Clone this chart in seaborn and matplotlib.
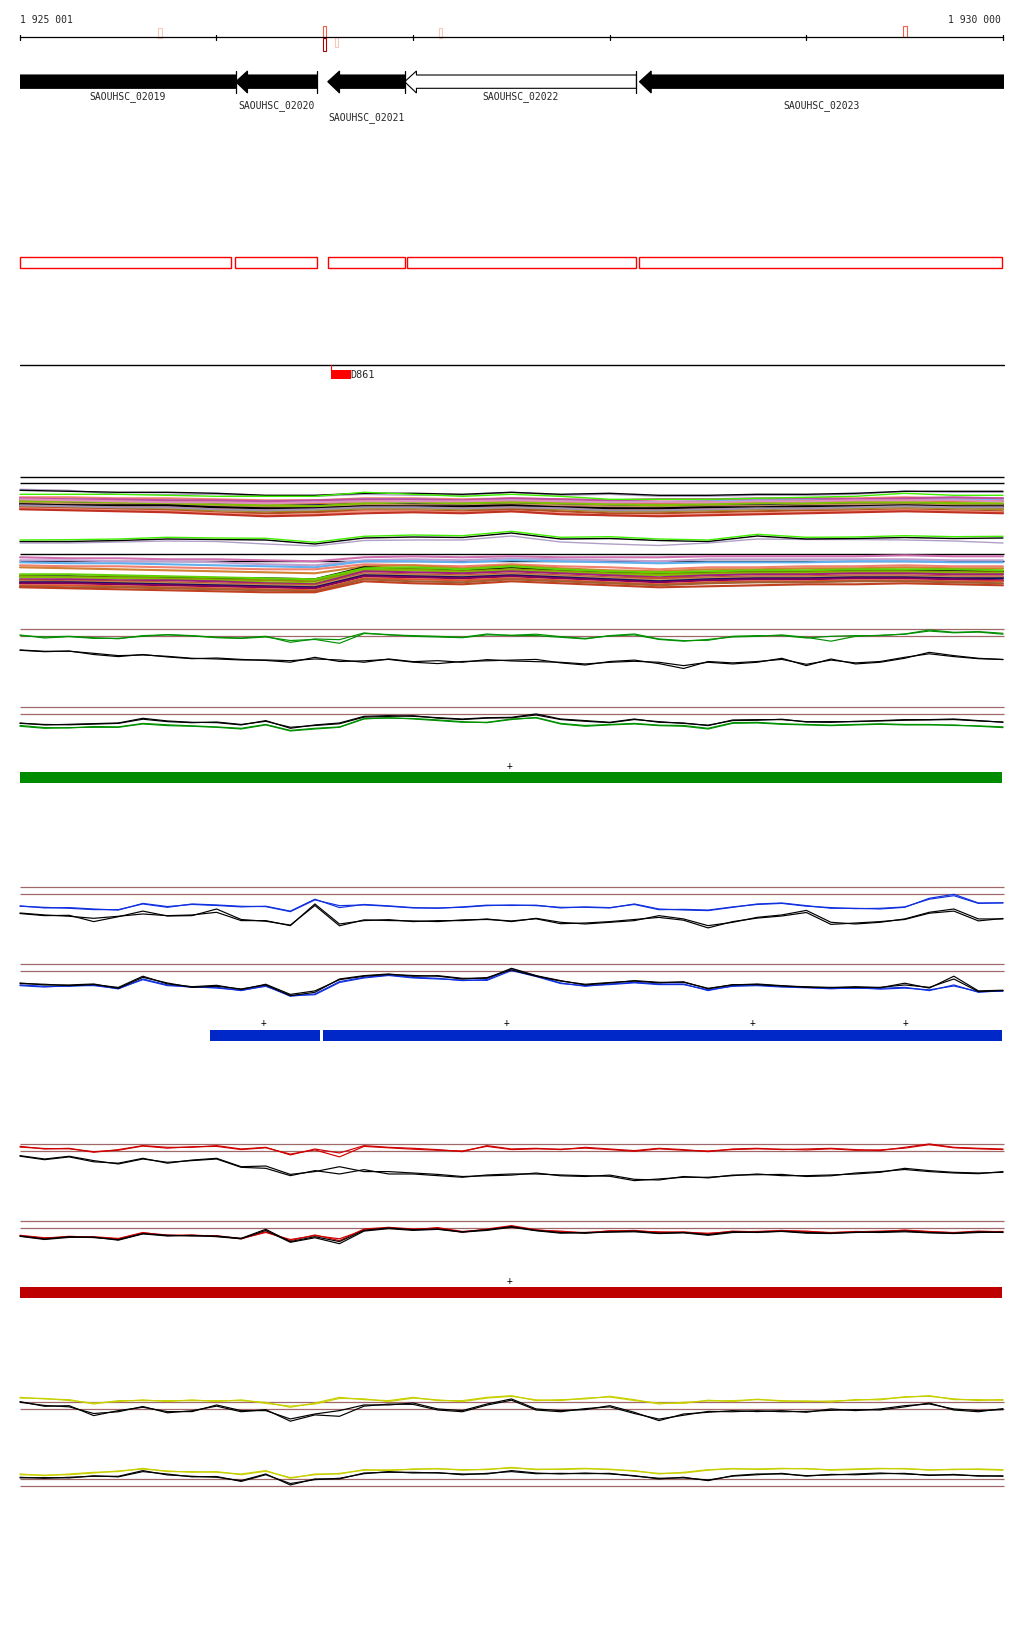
import numpy as np
import matplotlib
matplotlib.use("Agg")
import matplotlib.pyplot as plt
import seaborn as sns
from matplotlib.patches import Polygon, Rectangle

# ---------------- data ----------------
START, END = 1925001, 1930000
ruler_ticks = [1925001, 1926000, 1927000, 1928000, 1929000, 1930000]
ruler_labels = ["1 925 001", "1 930 000"]

gene_names = ["SAOUHSC_02019", "SAOUHSC_02020", "SAOUHSC_02021", "SAOUHSC_02022", "SAOUHSC_02023"]
gene_starts = [1924880, 1926098, 1926566, 1926957, 1928151]
gene_ends = [1926098, 1926512, 1926957, 1928136, 1930150]
gene_filled = [True, True, True, False, True]
gene_label_row = [0, 1, 2, 0, 1]

cds_starts = [1925001, 1926093, 1926567, 1926969, 1928151]
cds_ends = [1926076, 1926511, 1926958, 1928136, 1929995]

marker_pos = [1925712, 1926550, 1926611, 1927140, 1929501]
marker_kind = ["pale", "strong", "pale_low", "pale", "mid"]

feature_name = "D861"
feature_start, feature_end = 1926581, 1926683

green_seg_starts, green_seg_ends = [1925001], [1929995]
green_plus = [1927490]
blue_seg_starts, blue_seg_ends = [1925966, 1926540], [1926527, 1929995]
blue_plus = [1926242, 1927477, 1928726, 1929502]
red_seg_starts, red_seg_ends = [1925001], [1929995]
red_plus = [1927490]

# profile values (log-ratio like), 41 positions every 125 bp
g1_col_a = [0.19,-0.24,-0.05,-0.29,-0.29,0.0,0.24,0.1,-0.14,-0.24,0.0,-0.86,-0.38,-0.48,0.48,0.19,0.1,0.0,-0.14,0.33,0.1,0.1,-0.14,-0.38,0.1,0.33,-0.38,-0.62,-0.57,0.0,0.1,0.1,-0.24,0.0,0.1,0.1,0.33,0.9,0.57,0.67,0.43]
g1_col_b = [0.1,-0.1,0.0,-0.2,-0.35,0.1,0.2,0.05,-0.2,-0.3,-0.1,-0.6,-0.45,-1.0,0.4,0.25,0.0,-0.1,-0.2,0.2,0.15,0.3,-0.05,-0.3,0.05,0.2,-0.45,-0.7,-0.45,-0.1,0.0,0.2,-0.15,-0.7,0.0,0.15,0.3,0.75,0.5,0.6,0.3]
g1_blk_a = [-1.95,-2.14,-2.14,-2.43,-2.76,-2.67,-2.86,-3.14,-3.24,-3.38,-3.38,-3.48,-3.24,-3.38,-3.71,-3.24,-3.62,-3.48,-3.71,-3.33,-3.52,-3.62,-3.71,-3.95,-3.71,-3.57,-3.71,-4.19,-3.71,-3.95,-3.71,-3.14,-4.19,-3.24,-3.95,-3.71,-3.14,-2.29,-2.76,-3.14,-3.33]
g1_blk_b = [-2.0,-2.2,-2.1,-2.6,-2.9,-2.6,-2.95,-3.2,-3.1,-3.3,-3.45,-3.7,-3.0,-3.6,-3.5,-3.3,-3.7,-3.9,-3.6,-3.5,-3.4,-3.3,-3.8,-4.1,-3.6,-3.4,-3.9,-4.6,-3.6,-3.8,-3.6,-3.3,-4.0,-3.4,-3.8,-3.6,-3.0,-2.5,-2.9,-3.2,-3.3]

g2_blk_a = [-1.24,-1.52,-1.43,-1.33,-1.24,-0.57,-0.95,-1.14,-1.19,-1.52,-0.9,-2.0,-1.52,-1.24,-0.29,-0.19,-0.29,-0.48,-0.67,-0.48,-0.43,0.05,-0.67,-0.9,-1.14,-0.67,-1.14,-1.24,-1.62,-0.81,-0.76,-0.76,-1.05,-1.05,-1.05,-0.9,-0.76,-0.76,-0.67,-0.9,-1.14]
g2_blk_b = [-1.3,-1.45,-1.5,-1.4,-1.3,-0.7,-1.05,-1.2,-1.1,-1.45,-1.0,-1.85,-1.6,-1.35,-0.4,-0.3,-0.2,-0.55,-0.75,-0.55,-0.5,-0.1,-0.75,-1.0,-1.2,-0.75,-1.05,-1.3,-1.55,-0.9,-0.85,-0.7,-1.1,-1.15,-1.0,-0.95,-0.85,-0.8,-0.75,-0.95,-1.1]
g2_col_a = [-1.71,-2.0,-1.9,-1.86,-1.86,-1.38,-1.62,-1.71,-1.86,-2.1,-1.52,-2.38,-2.1,-1.86,-0.67,-0.48,-0.67,-0.9,-1.14,-1.14,-0.67,-0.52,-1.38,-1.71,-1.52,-1.38,-1.62,-1.71,-2.1,-1.29,-1.24,-1.43,-1.52,-1.62,-1.52,-1.43,-1.52,-1.52,-1.52,-1.71,-1.9]
g2_col_b = [-1.6,-1.9,-1.95,-1.75,-1.8,-1.3,-1.5,-1.65,-1.8,-2.0,-1.45,-2.3,-2.0,-1.8,-0.6,-0.55,-0.6,-0.8,-1.05,-1.2,-0.75,-0.45,-1.3,-1.6,-1.45,-1.3,-1.55,-1.6,-2.0,-1.2,-1.15,-1.35,-1.45,-1.55,-1.45,-1.35,-1.45,-1.45,-1.6,-1.65,-1.8]

b1_col_a = [-1.71,-1.86,-2.0,-2.19,-2.19,-1.38,-1.86,-1.38,-1.52,-1.71,-1.76,-2.48,-0.8,-1.62,-1.52,-1.71,-1.95,-1.95,-1.86,-1.62,-1.52,-1.62,-1.86,-1.86,-1.95,-1.38,-2.1,-2.24,-2.33,-1.86,-1.38,-1.24,-1.62,-2.0,-2.0,-2.1,-1.86,-0.57,0.0,-1.24,-1.24]
b1_col_b = [-1.65,-1.95,-1.9,-2.1,-2.25,-1.3,-1.75,-1.45,-1.6,-1.8,-1.7,-2.4,-0.7,-1.9,-1.45,-1.65,-1.9,-2.0,-1.8,-1.55,-1.6,-1.55,-1.95,-1.8,-1.9,-1.45,-2.2,-2.15,-2.25,-1.8,-1.45,-1.3,-1.7,-1.9,-2.05,-2.0,-1.8,-0.7,-0.2,-1.3,-1.2]
b1_blk_a = [-2.67,-2.95,-3.14,-3.43,-3.14,-2.81,-3.05,-2.95,-2.57,-3.76,-3.76,-4.48,-1.38,-4.24,-3.76,-3.62,-3.9,-3.76,-3.76,-3.52,-3.9,-3.43,-4.0,-4.24,-4.0,-3.76,-3.05,-3.52,-4.48,-4.0,-3.29,-2.95,-2.3,-4.0,-4.24,-4.0,-3.52,-2.57,-2.1,-3.52,-3.52]
b1_blk_b = [-2.75,-3.05,-3.0,-3.9,-3.2,-2.4,-3.1,-3.05,-2.1,-3.6,-3.85,-4.4,-1.6,-4.5,-3.65,-3.75,-3.8,-3.9,-3.65,-3.6,-3.8,-3.5,-4.2,-4.1,-3.9,-3.6,-3.3,-3.7,-4.8,-3.9,-3.4,-3.1,-2.6,-4.3,-4.1,-3.9,-3.6,-2.7,-2.4,-3.8,-3.45]

b2_blk_a = [-1.67,-1.95,-1.95,-1.81,-2.43,-0.86,-1.67,-2.29,-2.14,-2.52,-1.95,-3.48,-3.0,-1.1,-0.62,-0.38,-0.71,-0.62,-1.0,-1.0,0.43,-0.62,-1.33,-1.95,-1.67,-1.33,-1.57,-1.57,-2.43,-1.95,-1.81,-2.05,-2.29,-2.29,-2.29,-2.29,-1.95,-2.29,-1.1,-2.9,-2.76]
b2_blk_b = [-1.75,-1.85,-2.05,-1.9,-2.3,-0.7,-1.8,-2.2,-2.0,-2.6,-1.85,-3.3,-2.8,-1.2,-0.7,-0.45,-0.6,-0.7,-1.1,-0.9,0.2,-0.7,-1.4,-1.85,-1.6,-1.4,-1.65,-1.5,-2.5,-1.9,-1.9,-2.1,-2.2,-2.35,-2.2,-2.35,-1.7,-2.4,-0.7,-2.8,-2.7]
b2_col_a = [-1.95,-2.14,-2.14,-1.95,-2.52,-1.1,-1.95,-2.29,-2.29,-2.76,-2.05,-3.57,-3.24,-1.48,-0.86,-0.52,-0.86,-1.0,-1.33,-1.19,0.35,-0.62,-1.67,-2.14,-1.81,-1.57,-1.81,-1.81,-2.76,-2.05,-1.95,-2.14,-2.29,-2.43,-2.43,-2.43,-2.29,-2.76,-1.95,-3.0,-2.76]
b2_col_b = [-2.05,-2.25,-2.05,-2.05,-2.45,-1.2,-2.05,-2.2,-2.4,-2.7,-2.15,-3.45,-3.35,-1.6,-0.95,-0.6,-0.95,-1.1,-1.25,-1.3,0.1,-0.75,-1.75,-2.05,-1.9,-1.65,-1.9,-1.9,-2.65,-2.15,-2.05,-2.25,-2.35,-2.5,-2.35,-2.55,-2.4,-2.65,-2.1,-2.9,-2.85]

r1_col_a = [0.71,0.33,0.43,-0.14,0.24,0.81,0.57,0.57,0.81,0.33,0.57,-0.52,0.33,-0.24,0.81,0.57,0.43,0.24,-0.05,0.81,0.33,0.43,0.24,0.57,0.33,0.1,0.43,0.24,-0.05,0.33,0.43,0.24,0.33,0.43,0.24,0.1,0.57,1.05,0.57,0.43,0.33]
r1_col_b = [0.6,0.4,0.35,-0.05,0.15,0.75,0.45,0.65,0.7,0.25,0.5,-0.4,0.2,-0.8,0.7,0.5,0.3,0.15,0.05,0.7,0.25,0.35,0.3,0.45,0.25,0.0,0.35,0.15,0.05,0.25,0.35,0.3,0.2,0.35,0.15,0.2,0.45,0.95,0.5,0.35,0.25]
r1_blk_a = [-0.62,-1.1,-0.71,-1.33,-1.81,-1.1,-1.57,-1.33,-1.1,-2.29,-2.43,-3.48,-2.76,-3.24,-2.62,-3.24,-3.24,-3.48,-3.71,-3.38,-3.24,-3.24,-3.38,-3.48,-3.57,-4.19,-3.95,-3.71,-3.71,-3.48,-3.24,-3.48,-3.48,-3.38,-3.24,-3.0,-2.43,-2.76,-3.0,-3.1,-3.0]
r1_blk_b = [-0.7,-1.2,-0.8,-1.5,-1.7,-1.0,-1.7,-1.25,-1.0,-2.2,-2.1,-3.3,-2.9,-2.2,-2.9,-2.9,-3.1,-3.3,-3.6,-3.5,-3.4,-3.1,-3.5,-3.6,-3.4,-4.0,-4.1,-3.6,-3.8,-3.4,-3.35,-3.3,-3.6,-3.5,-3.1,-2.9,-2.6,-2.9,-3.1,-3.2,-2.9]

r2_col_a = [-1.05,-1.43,-1.14,-1.29,-1.52,-0.67,-0.95,-1.05,-1.05,-1.52,-0.48,-1.76,-0.95,-1.76,-0.1,0.14,-0.1,0.0,-0.57,-0.1,0.38,-0.2,-0.5,-0.6,-0.4,-0.3,-0.6,-0.5,-0.8,-0.4,-0.5,-0.3,-0.5,-0.6,-0.5,-0.4,-0.3,-0.5,-0.6,-0.4,-0.5]
r2_col_b = [-1.0,-1.35,-1.25,-1.2,-1.45,-0.6,-1.05,-0.95,-1.15,-1.45,-0.6,-1.6,-1.05,-1.5,-0.25,0.05,-0.2,0.1,-0.45,-0.2,0.3,-0.3,-0.4,-0.7,-0.35,-0.4,-0.5,-0.6,-0.7,-0.5,-0.45,-0.35,-0.4,-0.65,-0.45,-0.5,-0.25,-0.45,-0.65,-0.5,-0.45]
r2_blk_a = [-1.1,-1.52,-1.2,-1.33,-1.62,-0.76,-1.0,-1.1,-1.1,-1.43,-0.14,-1.9,-1.2,-1.9,-0.29,0.05,-0.2,-0.1,-0.5,-0.2,0.24,-0.3,-0.6,-0.7,-0.5,-0.4,-0.7,-0.6,-0.9,-0.5,-0.6,-0.4,-0.6,-0.7,-0.6,-0.5,-0.4,-0.6,-0.7,-0.5,-0.6]
r2_blk_b = [-1.15,-1.6,-1.3,-1.25,-1.7,-0.8,-1.1,-1.0,-1.2,-1.5,-0.3,-2.0,-1.35,-2.2,-0.4,-0.05,-0.3,-0.15,-0.55,-0.3,0.15,-0.35,-0.7,-0.6,-0.55,-0.5,-0.75,-0.65,-1.0,-0.6,-0.55,-0.45,-0.7,-0.75,-0.55,-0.6,-0.5,-0.65,-0.75,-0.6,-0.55]

y1_col_a = [1.71,1.48,1.38,0.76,1.24,1.24,1.24,1.24,1.24,1.24,1.0,0.29,0.9,1.71,1.38,1.24,1.71,1.24,1.24,1.71,1.95,1.24,1.38,1.48,1.86,1.38,0.76,1.0,1.19,1.24,1.38,1.24,1.1,1.19,1.29,1.48,1.71,1.95,1.38,1.38,1.29]
y1_col_b = [1.6,1.55,1.25,0.9,1.1,1.35,1.1,1.35,1.1,1.35,0.85,0.45,0.75,1.55,1.5,1.1,1.6,1.35,1.1,1.6,1.85,1.35,1.25,1.6,1.75,1.25,0.9,0.85,1.3,1.1,1.45,1.15,1.2,1.05,1.4,1.35,1.8,1.85,1.5,1.25,1.4]
y1_blk_a = [1.1,0.43,0.52,-0.9,-0.19,0.29,-0.33,-0.33,0.62,-0.19,-0.19,-1.38,-0.67,-0.19,0.62,0.62,0.9,0.05,-0.19,0.76,1.48,0.05,-0.19,-0.05,0.52,-0.43,-1.62,-0.67,-0.43,-0.19,-0.33,-0.19,-0.43,0.05,-0.19,0.05,0.52,0.76,0.05,-0.19,-0.05]
y1_blk_b = [1.0,0.55,0.35,-0.6,-0.35,0.4,-0.5,-0.2,0.45,-0.35,-0.05,-1.7,-0.8,-1.0,0.45,0.75,0.7,-0.1,-0.35,0.6,1.3,-0.1,-0.35,0.1,0.35,-0.6,-1.4,-0.85,-0.3,-0.35,-0.2,-0.35,-0.3,-0.15,-0.05,-0.1,0.35,0.9,-0.1,-0.35,0.1]

y2_col_a = [1.76,1.52,1.76,2.0,2.1,2.57,2.1,2.1,2.0,1.76,2.24,1.14,1.76,1.76,2.38,2.24,2.48,2.48,2.38,2.38,2.71,2.38,2.48,2.57,2.38,2.24,1.76,2.0,2.38,2.48,2.48,2.57,2.48,2.38,2.48,2.57,2.48,2.38,2.38,2.48,2.38]
y2_col_b = [1.65,1.6,1.65,1.9,2.2,2.45,2.2,2.0,2.1,1.65,2.15,1.25,1.65,1.85,2.3,2.35,2.4,2.55,2.3,2.45,2.6,2.45,2.4,2.5,2.45,2.15,1.85,1.9,2.3,2.55,2.4,2.5,2.55,2.3,2.4,2.5,2.55,2.3,2.45,2.4,2.3]
y2_blk_a = [1.29,1.14,1.29,1.43,1.43,2.24,1.62,1.43,1.29,0.81,1.76,0.19,1.05,1.05,1.9,2.0,2.0,1.9,1.76,1.76,2.24,1.9,1.76,1.9,1.76,1.52,1.05,1.29,0.81,1.52,1.76,1.76,1.52,1.62,1.76,1.9,1.76,1.62,1.62,1.52,1.43]
y2_blk_b = [1.2,1.25,1.2,1.5,1.35,2.1,1.75,1.35,1.4,0.7,1.65,0.4,0.95,1.15,1.8,2.1,1.9,1.95,1.65,1.85,2.1,1.8,1.85,1.8,1.85,1.45,1.15,1.2,0.9,1.45,1.65,1.85,1.45,1.7,1.65,1.8,1.85,1.55,1.7,1.45,1.5]

# multi-sample clusters: depth (px-scale units) below reference line, 21 positions every 250 bp
upper_top_black = [7,8,9,9,10,12,12,10,10,11,9,11,10,12,12,11,11,10,8,8,8]
upper_top_lav = [6,7,11,11,11,13,13,11,12,12,9,12,11,13,13,12,12,11,8,9,9]
upper_top_green = [11,11,11,12,13,13,13,9,11,13,11,13,16,16,16,15,14,13,10,12,12]
upper_band = [
    [14,14,15,15,16,17,17,15,15,16,15,16,17,16,16,16,15,15,14,15,15],
    [16,16,17,17,18,18,19,16,16,17,16,18,18,19,18,17,17,16,16,16,17],
    [17,18,18,19,19,20,20,18,19,19,18,19,20,20,19,19,18,18,17,18,18],
    [15,16,16,17,17,18,17,16,16,17,15,16,17,16,16,15,15,16,15,14,15],
    [18,19,19,20,21,22,22,20,20,20,19,21,22,22,21,21,20,20,19,20,21],
    [19,19,20,20,21,23,22,21,21,22,20,21,22,23,22,22,21,21,20,21,21],
    [20,21,21,22,23,24,24,22,22,23,21,23,24,24,23,23,22,22,21,22,23],
    [21,21,22,23,24,25,24,23,23,24,22,23,24,25,24,24,23,22,22,23,23],
    [19,20,21,21,22,24,23,21,22,22,21,22,23,24,23,23,22,21,21,22,22],
    [18,18,19,20,21,22,23,20,19,20,19,20,21,22,21,20,20,19,19,20,20],
    [22,23,23,24,25,26,26,24,24,25,23,25,26,26,25,25,24,24,23,24,25],
    [16,17,18,19,19,20,19,18,18,18,17,18,19,19,19,18,18,17,17,17,18],
    [23,24,25,26,27,28,28,25,25,26,25,26,28,28,27,26,25,25,24,25,26],
    [24,25,26,27,29,30,29,27,27,28,26,28,30,30,29,28,27,27,26,27,28],
    [25,26,27,28,30,32,31,28,28,29,28,30,32,32,31,30,29,28,27,28,29],
    [21,22,22,22,24,25,25,23,23,23,22,24,25,25,24,24,23,23,22,23,23],
    [22,23,24,24,26,27,26,24,24,25,24,25,27,27,26,25,25,24,23,24,24],
    [26,27,28,29,31,33,32,30,29,30,28,31,32,33,32,31,30,29,28,29,30],
]
upper_band_colors = ["#f08070", "#70b8f0", "#d07020", "#c050a0", "#909010", "#101060",
                     "#c05030", "#800060", "#c09060", "#80c000", "#e85030", "#e090c0",
                     "#a09020", "#b05020", "#f09080", "#000000", "#a090b0", "#c03020"]

mid_green = [11,10.7,10,8.3,9,9.3,13.3,7.3,6,6.7,2.3,8.3,7.7,10,11,5.3,8.3,8,6.7,7.7,7.3]
mid_black = [12.5,12.5,11.5,10,10.5,11,15,9,8,8.5,4,10,9.5,11.5,12.5,7,10,9.5,8.5,9.5,9]
mid_lav = [14,14,13,12,12.5,15,17,11.5,11,11,7,13,15,16.5,14,10,10.5,10.5,11,12,14]

lower_band = [
    [3,4,4,5,5,6,7,3,2,3,2,3,3,3,2,2,2,2,1,2,2],
    [6,6,7,7,8,10,11,6,5,6,4,5,6,7,5,5,5,5,5,6,6],
    [8,9,9,10,11,12,13,7,7,8,6,7,8,9,8,8,8,7,7,8,8],
    [11,12,12,13,14,15,15,10,11,12,10,12,13,15,13,13,12,12,11,12,12],
    [13,14,15,16,17,18,19,12,11,14,11,14,16,17,15,15,14,14,13,14,14],
    [22,22,23,23,24,24,25,13,15,16,13,16,18,19,18,17,17,16,16,16,17],
    [22,23,23,24,25,26,27,15,15,17,15,17,19,20,19,18,18,17,17,18,18],
    [23,23,24,25,26,28,29,16,16,18,16,18,20,21,20,19,19,18,18,19,19],
    [25,25,26,26,27,29,30,17,18,19,17,19,21,23,21,20,20,19,19,20,20],
    [26,27,27,28,29,30,31,19,20,21,19,21,23,24,23,22,22,21,21,22,22],
    [27,28,28,29,30,31,32,20,21,22,20,22,24,26,24,23,23,22,22,23,23],
    [28,28,29,30,31,32,33,21,22,23,21,23,25,27,25,24,24,23,23,24,24],
    [29,29,30,31,32,33,34,22,23,24,22,24,26,28,26,25,25,24,24,25,26],
    [31,31,32,33,34,35,36,24,25,26,24,26,28,30,28,27,27,26,26,27,27],
    [32,33,33,34,35,36,37,25,27,28,25,27,29,31,29,28,28,27,27,28,29],
    [33,34,35,36,37,38,38,27,29,30,27,29,31,33,32,31,30,30,29,30,31],
    [20,20,21,22,23,24,25,14,13,15,12,15,17,18,17,16,16,15,15,15,16],
]
lower_band_colors = ["#d070b0", "#c0a0d0", "#60b0f0", "#f08070", "#d08030", "#000000",
                     "#909000", "#80c000", "#a02080", "#c05030", "#c09060", "#101060",
                     "#800060", "#e05030", "#a06030", "#c04020", "#60d000"]

# ---------------- layout helpers ----------------
W, H = 1024, 1640
BPP = (END - START) / 983.0
XLIM = (START - 20 * BPP, START + (W - 20) * BPP)
XR = END + 1 * BPP

sns.set_theme(style="white")
plt.rcParams["font.family"] = ["DejaVu Sans Mono", "DejaVu Sans"]

fig = plt.figure(figsize=(W / 100, H / 100), dpi=100)
fig.patch.set_facecolor("white")
ax = fig.add_axes([0, 0, 1, 1])
ax.set_xlim(*XLIM)
ax.set_ylim(H, 0)
ax.axis("off")

all_axes = []


def band_axes(top_px, bot_px, v_top, v_bot):
    a = fig.add_axes([0, 1 - bot_px / H, 1, (bot_px - top_px) / H])
    a.patch.set_alpha(0)
    all_axes.append((a, v_bot, v_top))
    return a


def signal_axes(ref_px, top_px, bot_px, unit=7.0):
    return band_axes(top_px, bot_px, (ref_px - top_px) / unit, (ref_px - bot_px) / unit)


def depth_axes(ref_px, top_px, bot_px):
    return band_axes(top_px, bot_px, top_px - ref_px, bot_px - ref_px)


pos41 = np.linspace(START, END, 41)
pos21 = np.linspace(START, END, 21)
LW = 0.85
BROWN = "#a06868"


def line(a, xs, ys, color, lw=LW):
    sns.lineplot(x=xs, y=ys, ax=a, color=color, linewidth=lw, legend=False,
                 estimator=None, sort=False, errorbar=None)


def hline(a, y, color, lw):
    a.hlines(y, START, XR, colors=color, linewidth=lw)


# ---------------- ruler ----------------
ax.plot([START, END], [38, 38], color="black", lw=0.9)
for t in ruler_ticks:
    ax.plot([t, t], [35.5, 41], color="black", lw=0.9)
ax.text(START, 20, ruler_labels[0], fontsize=7, va="center", ha="left")
ax.text(END - 2 * BPP, 20, ruler_labels[1], fontsize=7, va="center", ha="right")
mk_style = {"pale": ("#f8c8b8", 29, 39), "pale_low": ("#f8c8b8", 38, 48),
            "mid": ("#f06048", 27, 38), "strong": ("#f06048", 27, 39)}
for p, k in zip(marker_pos, marker_kind):
    c, y0, y1 = mk_style[k]
    ax.add_patch(Rectangle((p - 9, y0), 18, y1 - y0, fill=False, ec=c, lw=0.8))
    if k == "strong":
        ax.add_patch(Rectangle((p - 9, 39), 18, 13, fill=False, ec="#b00000", lw=0.8))

# ---------------- genes ----------------
HL = 60
for s, e, f, n, r in zip(gene_starts, gene_ends, gene_filled, gene_label_row and gene_names, gene_label_row):
    pts = [(s, 82.7), (s + HL, 72), (s + HL, 76), (e, 76), (e, 89.3), (s + HL, 89.3), (s + HL, 94)]
    poly = Polygon(pts, closed=True, fc="black" if f else "white", ec="black", lw=0.8)
    ax.add_patch(poly)
    poly.set_clip_path(Rectangle((START, 0), XR - START, H, transform=ax.transData))
    if e <= END:
        ax.plot([e, e], [72, 94], color="black", lw=0.9)
    mid = (max(s, START) + min(e, END)) / 2
    ax.text(mid, [97, 106, 118][r], n, fontsize=7, ha="center", va="center")

# CDS boxes
for s, e in zip(cds_starts, cds_ends):
    ax.add_patch(Rectangle((s, 258.3), e - s, 10.4, fill=False, ec="#ff0000", lw=1.0))

# feature track
ax.plot([START, XR], [366.3, 366.3], color="black", lw=1.0)
ax.plot([feature_start, feature_start], [366.3, 372], color="red", lw=0.8)
ax.add_patch(Rectangle((feature_start, 371), feature_end - feature_start, 9, fc="red", ec="none"))
ax.text(feature_end, 375.5, feature_name, fontsize=7.3, ha="left", va="center")

# ---------------- multi-sample clusters ----------------
up = depth_axes(484.3, 470, 530)
hline(up, -6, "black", 1.0)
hline(up, 0, "black", 1.0)
for vals, c in zip(upper_band, upper_band_colors):
    line(up, pos21, vals, c, lw=1.5)
line(up, pos21, upper_top_lav, "#b0a0c8", lw=1.0)
line(up, pos21, upper_top_black, "black", lw=1.0)
line(up, pos21, upper_top_green, "#40f000", lw=1.0)

md = depth_axes(530, 520, 560)
line(md, pos21, mid_lav, "#b0a0c8", lw=1.0)
line(md, pos21, mid_black, "black", lw=1.0)
line(md, pos21, mid_green, "#40f000", lw=1.0)

lo = depth_axes(555.3, 545, 600)
hline(lo, 0, "black", 1.0)
hline(lo, 7, "black", 1.0)
for vals, c in zip(lower_band, lower_band_colors):
    line(lo, pos21, vals, c, lw=1.5)

# ---------------- signal tracks ----------------
tracks = [
    (637.3, [(g1_col_a, "#009000"), (g1_col_b, "#009000"), (g1_blk_a, "black"), (g1_blk_b, "black")]),
    (715.3, [(g2_col_a, "#009000"), (g2_col_b, "#009000"), (g2_blk_a, "black"), (g2_blk_b, "black")]),
    (895.3, [(b1_col_a, "#1030e0"), (b1_col_b, "#1030e0"), (b1_blk_a, "black"), (b1_blk_b, "black")]),
    (972.3, [(b2_col_a, "#1030e0"), (b2_col_b, "#1030e0"), (b2_blk_a, "black"), (b2_blk_b, "black")]),
    (1152.3, [(r1_col_a, "#d00000"), (r1_col_b, "#d00000"), (r1_blk_a, "black"), (r1_blk_b, "black")]),
    (1229.3, [(r2_col_a, "#d00000"), (r2_col_b, "#d00000"), (r2_blk_a, "black"), (r2_blk_b, "black")]),
    (1410.3, [(y1_col_a, "#c8d000"), (y1_col_b, "#c8d000"), (y1_blk_a, "black"), (y1_blk_b, "black")]),
    (1487.3, [(y2_col_a, "#c8d000"), (y2_col_b, "#c8d000"), (y2_blk_a, "black"), (y2_blk_b, "black")]),
]
for ref, series in tracks:
    a = signal_axes(ref, ref - 40, ref + 45)
    hline(a, 0, BROWN, 0.9)
    hline(a, 1, BROWN, 0.9)
    for vals, c in series:
        line(a, pos41, vals, c)

# ---------------- segment bars ----------------
for starts, ends, plus, col, yc in [
    (green_seg_starts, green_seg_ends, green_plus, "#008c00", 778.5),
    (blue_seg_starts, blue_seg_ends, blue_plus, "#0028c8", 1036),
    (red_seg_starts, red_seg_ends, red_plus, "#be0000", 1293.5),
]:
    widths = [e - s for s, e in zip(starts, ends)]
    ax.barh(y=[yc] * len(starts), width=widths, left=starts, height=11, color=col, linewidth=0)
    for p in plus:
        ax.text(p, yc - 12.5, "+", fontsize=7, ha="center", va="center", color="black")

for a, vb, vt in all_axes:
    a.set_xlim(*XLIM)
    a.set_ylim(vb, vt)
    a.axis("off")
ax.set_xlim(*XLIM)
ax.set_ylim(H, 0)

fig.savefig("out.png", dpi=100, facecolor="white")
